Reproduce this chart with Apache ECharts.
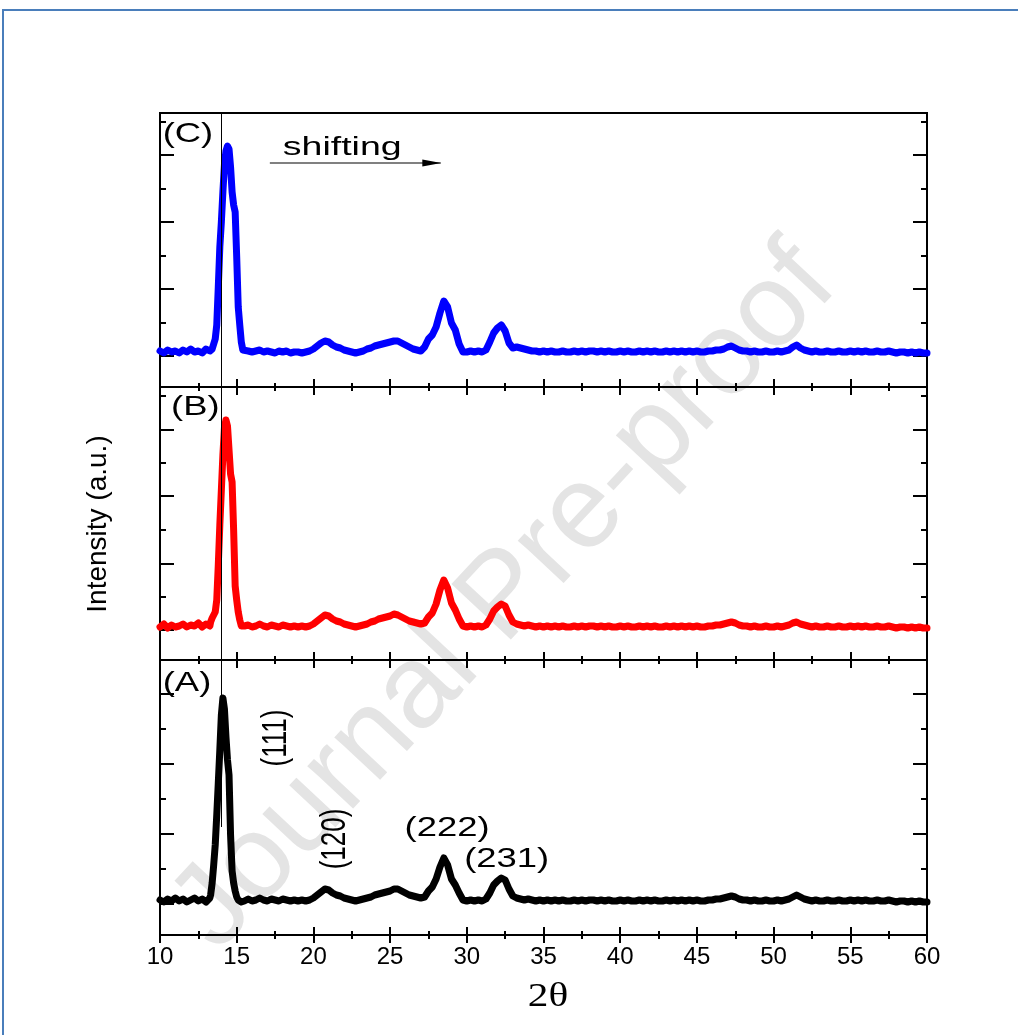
<!DOCTYPE html>
<html>
<head>
<meta charset="utf-8">
<title>XRD patterns</title>
<script src="https://cdn.jsdelivr.net/npm/echarts@6/dist/echarts.min.js"></script>
<style>
  html, body { margin: 0; padding: 0; background: #fff; }
  #chart { width: 1018px; height: 1035px; }
</style>
</head>
<body>
<div id="chart"></div>
<script>
// 2θ sampling positions (degrees)
const twoTheta = [
  10, 10.25, 10.5, 10.75, 11, 11.25, 11.5, 11.75, 12, 12.25, 12.5, 12.75, 13, 13.25,
  13.3, 13.4, 13.5, 13.6, 13.7, 13.8, 13.9, 14, 14.1, 14.2, 14.3, 14.4, 14.5, 14.6, 14.7, 14.8, 14.9, 15, 15.1, 15.2, 15.3, 15.4, 15.5,
  15.75,
  16, 16.25, 16.5, 16.75,
  17, 17.25, 17.5, 17.75,
  18, 18.25, 18.5, 18.75,
  19, 19.25, 19.5, 19.75,
  20, 20.25, 20.5, 20.75,
  21, 21.25, 21.5, 21.75,
  22, 22.25, 22.5, 22.75,
  23, 23.25, 23.5, 23.75,
  24, 24.25, 24.5, 24.75,
  25, 25.25, 25.5, 25.75,
  26, 26.25, 26.5, 26.75,
  27, 27.25, 27.5, 27.75,
  28, 28.25, 28.5, 28.75,
  29, 29.25, 29.5, 29.75,
  30, 30.25, 30.5, 30.75,
  31, 31.25, 31.5, 31.75,
  32, 32.25, 32.5, 32.75,
  33, 33.25, 33.5, 33.75,
  34, 34.25, 34.5, 34.75,
  35, 35.25, 35.5, 35.75,
  36, 36.25, 36.5, 36.75,
  37, 37.25, 37.5, 37.75,
  38, 38.25, 38.5, 38.75,
  39, 39.25, 39.5, 39.75,
  40, 40.25, 40.5, 40.75,
  41, 41.25, 41.5, 41.75,
  42, 42.25, 42.5, 42.75,
  43, 43.25, 43.5, 43.75,
  44, 44.25, 44.5, 44.75,
  45, 45.25, 45.5, 45.75,
  46, 46.25, 46.5, 46.75,
  47, 47.25, 47.5, 47.75,
  48, 48.25, 48.5, 48.75,
  49, 49.25, 49.5, 49.75,
  50, 50.25, 50.5, 50.75,
  51, 51.25, 51.5, 51.75,
  52, 52.25, 52.5, 52.75,
  53, 53.25, 53.5, 53.75,
  54, 54.25, 54.5, 54.75,
  55, 55.25, 55.5, 55.75,
  56, 56.25, 56.5, 56.75,
  57, 57.25, 57.5, 57.75,
  58, 58.25, 58.5, 58.75,
  59, 59.25, 59.5, 59.75,
  60
];

// Sample (A) — intensity, a.u.
const intensityA = [
  35, 33, 36, 34, 37, 34, 36, 33, 35, 37, 34, 36, 33, 37,
  40, 52, 70, 90, 120, 152, 185, 220, 237, 226, 198, 175, 160, 100, 64, 52, 44, 38, 35, 36, 33, 35, 34,
  36,
  34, 35, 37, 35,
  34, 36, 35, 34,
  36, 35, 34, 35,
  34, 35, 34, 35,
  37, 40, 43, 46,
  45, 42, 40, 39,
  37, 36, 35, 34,
  35, 36, 37, 38,
  40, 41, 42, 43,
  44, 46, 46, 44,
  42, 40, 39, 38,
  37, 38, 44, 48,
  56, 68, 77, 70,
  56, 50, 42, 35,
  34, 35, 34, 35,
  34, 36, 42, 50,
  54, 57, 55, 46,
  39, 37, 36, 35,
  36, 35, 34, 35,
  34, 35, 34, 35,
  34, 35, 34, 34,
  35, 34, 35, 34,
  35, 35, 34, 35,
  34, 35, 34, 34,
  35, 34, 35, 34,
  34, 35, 34, 35,
  34, 35, 34, 34,
  35, 34, 35, 34,
  35, 34, 35, 34,
  35, 34, 34, 35,
  35, 36, 36, 37,
  38, 39, 38, 36,
  35, 35, 34, 35,
  34, 34, 35, 34,
  34, 35, 34, 35,
  36, 38, 40, 38,
  36, 35, 34, 35,
  34, 34, 35, 34,
  34, 35, 34, 34,
  35, 34, 35, 34,
  35, 34, 34, 35,
  34, 34, 35, 34,
  33, 34, 34, 33,
  34, 33, 34, 33,
  33
];

// Sample (B) — intensity, a.u.
const intensityB = [
  33, 36, 32, 35, 33, 34, 36, 33, 35, 34, 37, 33, 36, 34,
  38, 42, 45, 48, 60, 95, 135, 170, 205, 232, 240, 234, 210, 186, 178, 130, 74, 60, 48, 40, 34, 33, 34,
  35,
  33, 34, 36, 34,
  33, 35, 34, 33,
  35, 34, 33, 34,
  33, 34, 33, 34,
  36, 39, 42, 45,
  44, 41, 39, 38,
  36, 35, 34, 33,
  34, 35, 36, 38,
  39, 41, 42, 43,
  44, 46, 45, 43,
  41, 39, 38, 37,
  36, 37, 43, 47,
  56, 70, 80, 72,
  57, 50, 41, 34,
  33, 34, 33, 34,
  33, 35, 41, 49,
  53, 56, 54, 45,
  38, 36, 35, 34,
  35, 34, 33, 34,
  33, 34, 33, 34,
  33, 34, 33, 33,
  34, 33, 34, 33,
  34, 34, 33, 34,
  33, 34, 33, 33,
  34, 33, 34, 33,
  33, 34, 33, 34,
  33, 34, 33, 33,
  34, 33, 34, 33,
  34, 33, 34, 33,
  34, 33, 33, 34,
  34, 35, 35, 36,
  37, 38, 37, 35,
  34, 34, 33, 34,
  33, 33, 34, 33,
  33, 34, 33, 34,
  35, 37, 38, 36,
  35, 34, 33, 34,
  33, 33, 34, 33,
  33, 34, 33, 33,
  34, 33, 34, 33,
  34, 33, 33, 34,
  33, 33, 34, 33,
  32, 33, 33, 32,
  33, 32, 33, 32,
  32
];

// Sample (C) — intensity, a.u.
const intensityC = [
  36, 34, 37, 35, 36, 34, 37, 35, 38, 35, 36, 34, 38, 36,
  37, 38, 40, 48, 62, 100, 140, 165, 195, 222, 236, 241, 238, 220, 195, 182, 175, 130, 80, 62, 45, 37, 35,
  36,
  35, 36, 37, 35,
  36, 35, 34, 36,
  35, 36, 34, 35,
  35, 34, 35, 36,
  38, 41, 44, 46,
  45, 42, 40, 39,
  37, 36, 35, 34,
  35, 36, 38, 39,
  41, 42, 43, 44,
  45, 46, 46, 44,
  42, 40, 38, 37,
  36, 40, 48, 52,
  60, 74, 86, 80,
  64, 57, 43, 35,
  35, 36, 35, 36,
  35, 37, 45, 54,
  59, 62, 56, 44,
  39, 40, 39, 38,
  37, 36, 36, 35,
  36, 35, 36, 35,
  35, 36, 35, 35,
  36, 35, 36, 35,
  36, 36, 35, 36,
  35, 36, 35, 35,
  36, 35, 36, 35,
  35, 36, 35, 36,
  35, 36, 35, 35,
  36, 35, 36, 35,
  36, 35, 36, 35,
  36, 35, 35, 36,
  36, 37, 37, 38,
  40, 41, 39, 37,
  36, 36, 35, 36,
  35, 35, 36, 35,
  35, 36, 35, 36,
  37, 40, 42, 39,
  37, 36, 35, 36,
  35, 35, 36, 35,
  35, 36, 35, 35,
  36, 35, 36, 35,
  36, 35, 35, 36,
  35, 35, 36, 35,
  34, 35, 35, 34,
  35, 34, 35, 34,
  34
];

// x-axis tick labels (2θ)
const xTickLabels = ['10', '15', '20', '25', '30', '35', '40', '45', '50', '55', '60'];

// Panel order top to bottom
const panelNames = ['(C)', '(B)', '(A)'];
const panelSeries = [intensityC, intensityB, intensityA];

// Intensity range shown in each panel and its tick marks (a.u.)
const panelRange = [274, 273, 275];
const majorTicks = [
  [31, 98, 165, 232],
  [30, 96.7, 164, 230.7],
  [31, 101, 171, 241]
];
const minorTicks = [
  [64.5, 131.5, 198.5, 265.5],
  [63, 130, 197.3, 264],
  [66, 136, 206]
];

// Miller indices of the reflections of (A)
const reflections = ['(111)', '(120)', '(222)', '(231)'];
// Reference 2θ of the (111) reflection of (A)
const reference2Theta = 14.0;

// ---------------- chart construction ----------------
const colors = ['#0000ff', '#ff0000', '#000000'];
const gridTop = [113, 387, 660];
const FONT = '"Liberation Sans", Arial, Helvetica, sans-serif';

const grids = [], xAxes = [], yAxes = [], series = [];
panelNames.forEach((name, g) => {
  grids.push({
    left: 160, right: 91, top: gridTop[g], height: panelRange[g],
    show: true, borderColor: '#000', borderWidth: 2,
    backgroundColor: 'transparent', containLabel: false, outerBoundsMode: 'none'
  });
  const isBottom = g === panelNames.length - 1;
  ['bottom', 'top'].forEach((pos) => {
    const labelled = isBottom && pos === 'bottom';
    xAxes.push({
      type: 'value', gridIndex: g, position: pos, min: 10, max: 60, interval: 5,
      axisLine: { show: false },
      splitLine: { show: false },
      axisTick: { show: true, inside: true, length: 8, lineStyle: { color: '#000', width: 2 } },
      minorTick: { show: true, splitNumber: 2, length: 4, lineStyle: { color: '#000', width: 2 } },
      axisLabel: {
        show: labelled, margin: 10, fontSize: 24, color: '#000', fontFamily: FONT,
        showMinLabel: true, showMaxLabel: true,
        formatter: (v) => xTickLabels[Math.round((v - 10) / 5)] || ''
      }
    });
  });
  ['left', 'right'].forEach((pos) => {
    [[majorTicks[g], 14], [minorTicks[g], 6]].forEach(([vals, len]) => {
      yAxes.push({
        type: 'value', gridIndex: g, position: pos, min: 0, max: panelRange[g],
        axisLine: { show: false }, splitLine: { show: false }, axisLabel: { show: false },
        axisTick: { show: true, inside: true, length: len, customValues: vals,
                    lineStyle: { color: '#000', width: 2 } }
      });
    });
  });

  // vertical guide at the (111) position of (A); it stops inside panel (A)
  const guideLow = isBottom ? 108 : 0;
  const mark = {
    silent: true, symbol: ['none', 'none'], animation: false,
    label: { show: false }, emphasis: { disabled: true },
    lineStyle: { color: '#000', width: 1, type: 'solid' },
    data: [[{ coord: [reference2Theta, guideLow] }, { coord: [reference2Theta, panelRange[g]] }]]
  };
  const s = {
    type: 'line', name: name, xAxisIndex: 2 * g, yAxisIndex: 4 * g,
    data: twoTheta.map((x, i) => [x, panelSeries[g][i]]),
    showSymbol: false, smooth: false, z: 3,
    lineStyle: { color: colors[g], width: 7, join: 'round', cap: 'round' },
    itemStyle: { color: colors[g] },
    markLine: mark
  };
  if (g === 0) {
    // "shifting" arrow in panel (C)
    mark.data.push([{ coord: [17.16, 224], lineStyle: { color: '#808080', width: 2 } },
                    { coord: [28.3, 224] }]);
    s.markPoint = {
      silent: true, animation: false,
      data: [{ coord: [27.72, 224], symbol: 'triangle', symbolSize: [7, 19], symbolRotate: -90,
               itemStyle: { color: '#000' }, label: { show: false } }]
    };
  }
  series.push(s);
});

const chart = echarts.init(document.getElementById('chart'), null, { renderer: 'canvas' });
chart.setOption({
  animation: false,
  backgroundColor: '#fff',
  grid: grids, xAxis: xAxes, yAxis: yAxes, series: series
});

// text annotations placed through the panels' coordinate systems
function txt(seriesIndex, pt, text, size, opts) {
  const p = chart.convertToPixel({ seriesIndex: seriesIndex }, pt);
  return Object.assign({
    type: 'text', x: p[0], y: p[1], z: 100,
    style: { text: text, font: size + 'px ' + FONT, fill: '#000', align: 'center', verticalAlign: 'middle' }
  }, opts || {});
}

const graphics = [
  // outer frame
  { type: 'rect', z: -20, silent: true,
    shape: { x: 3, y: 10, width: 1200, height: 1200 },
    style: { fill: 'none', stroke: '#4a7ebb', lineWidth: 2 } },
  // watermark
  { type: 'text', z: -10, silent: true, x: 505, y: 598, rotation: 0.82,
    style: { text: 'Journal Pre-proof', font: '118px ' + FONT, fill: '#e4e4e4',
             align: 'center', verticalAlign: 'middle' } },
  // panel letters
  txt(0, [11.82, 253], panelNames[0], 28, { scaleX: 1.3 }),
  txt(1, [12.3, 252.5], panelNames[1], 28, { scaleX: 1.3 }),
  txt(2, [11.76, 252], panelNames[2], 28, { scaleX: 1.3 }),
  // arrow caption
  txt(0, [21.88, 239], 'shifting', 25, { scaleX: 1.5 }),
  // reflections of (A)
  txt(2, [17.6, 197], reflections[0], 26, { rotation: Math.PI / 2, scaleY: 1.35 }),
  txt(2, [21.4, 96], reflections[1], 26, { rotation: Math.PI / 2, scaleY: 1.35 }),
  txt(2, [28.72, 106], reflections[2], 27, { scaleX: 1.35 }),
  txt(2, [32.6, 75.5], reflections[3], 27, { scaleX: 1.35 }),
  // axis titles
  { type: 'text', z: 100, x: 98, y: 524, rotation: Math.PI / 2,
    style: { text: 'Intensity (a.u.)', font: '28px ' + FONT, fill: '#000', align: 'center', verticalAlign: 'middle' } },
  { type: 'text', z: 100, x: 548, y: 997, scaleX: 1.25,
    style: { text: '2θ', font: '33px "Liberation Serif", "Times New Roman", serif', fill: '#000', align: 'center', verticalAlign: 'middle' } }
];
chart.setOption({ graphic: graphics });
</script>
</body>
</html>
